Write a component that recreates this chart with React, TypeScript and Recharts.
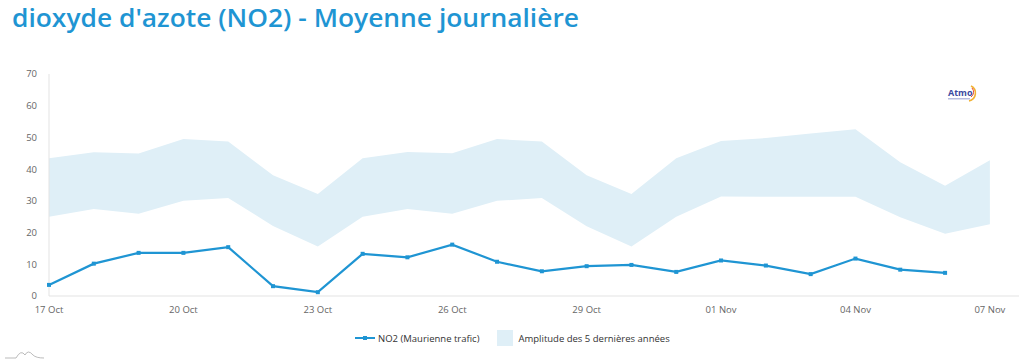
import React from "react"
import { ComposedChart, Area, Line, XAxis, YAxis } from "recharts"

// one entry per day, 17 Oct -> 07 Nov
const days = [
  "17 Oct", "18 Oct", "19 Oct", "20 Oct", "21 Oct", "22 Oct", "23 Oct",
  "24 Oct", "25 Oct", "26 Oct", "27 Oct", "28 Oct", "29 Oct", "30 Oct",
  "31 Oct", "01 Nov", "02 Nov", "03 Nov", "04 Nov", "05 Nov", "06 Nov", "07 Nov",
]

const no2 = [
  3.5, 10.2, 13.6, 13.6, 15.4, 3.1, 1.2, 13.3, 12.2, 16.2, 10.8,
  7.8, 9.4, 9.8, 7.6, 11.2, 9.6, 6.9, 11.8, 8.3, 7.3, null,
]

const bandLow = [
  25.0, 27.4, 25.9, 30.0, 30.9, 22.1, 15.6, 25.0, 27.4, 25.9, 30.0,
  30.9, 22.0, 15.6, 25.0, 31.4, 31.3, 31.3, 31.3, 24.8, 19.6, 22.6,
]

const bandHigh = [
  43.4, 45.3, 44.9, 49.5, 48.7, 38.1, 32.2, 43.4, 45.4, 45.0, 49.5,
  48.7, 38.1, 32.2, 43.4, 48.9, 49.8, 51.2, 52.6, 42.2, 34.8, 42.8,
]

const xTicks = [0, 3, 6, 9, 12, 15, 18, 21]
const yTicks = [0, 10, 20, 30, 40, 50, 60, 70]

const LINE = "#1f95d3"
const BAND = "#dfeff7"
const FONT = "'Open Sans', 'DejaVu Sans', sans-serif"

const data = days.map((d, i) => ({
  day: i,
  label: d,
  no2: no2[i],
  range: [bandLow[i], bandHigh[i]],
}))

const SquareDot = (props: any) => {
  const { cx, cy } = props
  if (cx == null || cy == null || props.value == null) return null
  return <rect x={cx - 2} y={cy - 2} width={4} height={4} fill={LINE} />
}

export default function App() {
  return (
    <div style={{ position: "absolute", left: 0, top: 0, width: 1024, height: 363, background: "#fff", fontFamily: FONT }}>
      <svg width={1024} height={40} style={{ position: "absolute", left: 0, top: 0 }}>
        <text x={12} y={27} fill={LINE} fontSize={25} fontWeight={600} textLength={567} lengthAdjust="spacingAndGlyphs" fontFamily={FONT}>
          dioxyde d'azote (NO2) - Moyenne journalière
        </text>
      </svg>

      <div style={{ position: "absolute", left: 0, top: 0 }}>
        <ComposedChart width={1024} height={363} data={data} margin={{ top: 74, right: 5, bottom: 47, left: 0 }}>
          <XAxis
            dataKey="day"
            type="number"
            domain={[0, 21.65]}
            ticks={xTicks}
            tickFormatter={(v: number) => days[v]}
            tickLine={false}
            axisLine={{ stroke: "#e3e3e3" }}
            tick={{ fill: "#666", fontSize: 9.5, fontFamily: FONT }}
            tickMargin={4}
            height={20}
          />
          <YAxis
            domain={[0, 70]}
            ticks={yTicks}
            tickLine={false}
            axisLine={{ stroke: "#e3e3e3" }}
            tick={{ fill: "#666", fontSize: 9.5, fontFamily: FONT }}
            tickMargin={6}
            width={49}
          />
          <Area
            dataKey="range"
            stroke="none"
            fill={BAND}
            fillOpacity={1}
            type="linear"
            isAnimationActive={false}
          />
          <Line
            dataKey="no2"
            stroke={LINE}
            strokeWidth={2.2}
            type="linear"
            dot={<SquareDot />}
            activeDot={false}
            isAnimationActive={false}
          />
        </ComposedChart>
      </div>

      {/* legend */}
      <div style={{ position: "absolute", top: 330, left: 355, display: "flex", alignItems: "center", fontSize: 9.5, color: "#333" }}>
        <svg width={20} height={10} style={{ marginRight: 3 }}>
          <line x1={0} y1={5} x2={20} y2={5} stroke={LINE} strokeWidth={2} />
          <rect x={8} y={3} width={4} height={4} fill={LINE} />
        </svg>
        <span>NO2 (Maurienne trafic)</span>
        <span style={{ display: "inline-block", width: 16, height: 16, background: BAND, marginLeft: 18, marginRight: 5 }} />
        <span>Amplitude des 5 dernières années</span>
      </div>

      {/* Atmo logo */}
      <svg width={40} height={24} style={{ position: "absolute", left: 945, top: 83 }}>
        <text x={3} y={13} fontSize={9} fontWeight={700} fill="#3b4aa0" fontFamily={FONT}>Atmo</text>
        <rect x={3} y={15} width={22} height={1.5} fill="#b8bde0" />
        <path d="M26 3 A8 8 0 0 1 24 18" stroke="#f2b233" strokeWidth={1.6} fill="none" />
        <path d="M27 5 A6 6 0 0 1 26 14" stroke="#e4453b" strokeWidth={1} fill="none" />
      </svg>

      {/* small mountain mark */}
      <svg width={50} height={14} style={{ position: "absolute", left: 2, top: 346 }}>
        <path d="M3 12 L14 12 Q19 3 23 9 Q26 3 31 9 Q34 12 42 12" stroke="#aaa" strokeWidth={0.8} fill="none" />
      </svg>
    </div>
  )
}
